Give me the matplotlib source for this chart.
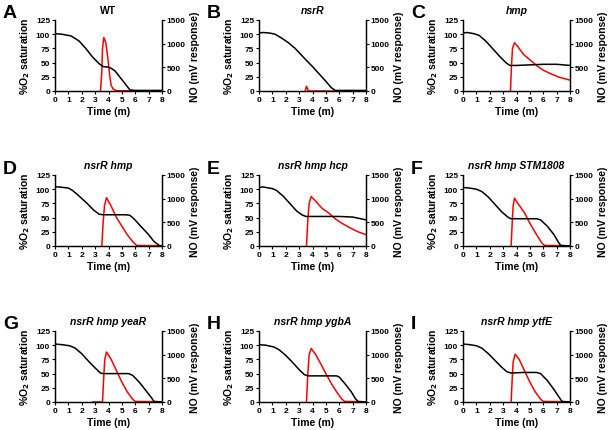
import matplotlib
matplotlib.use("Agg")
import matplotlib.pyplot as plt

plt.rcParams['font.family'] = ['Liberation Sans', 'DejaVu Sans']
plt.rcParams['font.weight'] = 'bold'

letters = ['A', 'B', 'C', 'D', 'E', 'F', 'G', 'H', 'I']
titles = ['WT', 'nsrR', 'hmp', 'nsrR hmp', 'nsrR hmp hcp', 'nsrR hmp STM1808',
          'nsrR hmp yeaR', 'nsrR hmp ygbA', 'nsrR hmp ytfE']
title_italic = [False, True, True, True, True, True, True, True, True]

# O2 saturation curves (time in minutes, % saturation)
o2_t = [
    [0, 0.5, 1.2, 1.8, 2.3, 2.8, 3.3, 3.6, 4.0, 4.2, 4.5, 5.0, 5.4, 5.6, 6, 8],
    [0, 0.3, 0.8, 1.2, 1.7, 2.2, 2.7, 3.1, 3.5, 4.0, 4.5, 5.0, 5.4, 5.7, 8],
    [0, 0.3, 0.8, 1.2, 1.7, 2.2, 2.7, 3.2, 3.5, 4, 5, 6, 7, 8],
    [0, 0.3, 1.0, 1.3, 1.8, 2.4, 2.9, 3.3, 3.6, 4.5, 5.3, 5.6, 5.9, 6.4, 7.0, 7.4, 7.8, 8],
    [0, 0.3, 1.0, 1.3, 1.8, 2.3, 2.8, 3.2, 3.5, 4, 5, 6, 7, 7.6, 8],
    [0, 0.5, 1.0, 1.4, 1.9, 2.4, 2.9, 3.4, 3.6, 5.5, 5.8, 6.3, 6.8, 7.1, 7.3, 8],
    [0, 0.5, 1.1, 1.5, 2.0, 2.5, 3.0, 3.4, 3.6, 5.5, 5.8, 6.3, 6.8, 7.2, 7.4, 8],
    [0, 0.5, 1.1, 1.5, 2.0, 2.5, 3.0, 3.4, 3.7, 5.8, 6.0, 6.4, 6.9, 7.2, 7.4, 8],
    [0, 0.5, 1.0, 1.4, 1.9, 2.4, 2.9, 3.3, 3.6, 4.5, 5.5, 5.8, 6.3, 6.8, 7.2, 7.4, 8],
]
o2_v = [
    [101, 100, 97, 88, 75, 60, 48, 43, 42, 40, 35, 20, 8, 2, 1, 1],
    [102, 103, 102, 100, 93, 85, 75, 65, 55, 43, 30, 17, 6, 1, 1],
    [102, 103, 101, 98, 88, 75, 62, 50, 45, 45, 46, 47, 47, 45],
    [104, 104, 102, 98, 88, 75, 63, 56, 55, 55, 55, 54, 48, 35, 20, 8, 1, 0],
    [103, 104, 101, 98, 88, 75, 62, 55, 52, 52, 52, 52, 51, 48, 46],
    [103, 102, 100, 96, 86, 73, 60, 50, 48, 48, 46, 35, 20, 8, 1, 0],
    [102, 101, 99, 95, 85, 72, 60, 51, 50, 50, 47, 35, 20, 8, 1, 0],
    [101, 100, 97, 92, 82, 70, 57, 48, 46, 46, 44, 33, 18, 6, 1, 0],
    [102, 101, 99, 95, 85, 73, 61, 53, 51, 52, 52, 50, 38, 22, 8, 1, 0],
]

# NO electrode response (time in minutes, mV)
no_t = [
    [3.4, 3.5, 3.55, 3.65, 3.8, 3.95, 4.1, 4.2, 4.35, 4.6, 8],
    [3.45, 3.55, 3.7, 8],
    [3.55, 3.62, 3.7, 3.85, 4.1, 4.5, 5.0, 5.5, 6.0, 6.6, 7.2, 8],
    [3.5, 3.6, 3.7, 3.85, 4.2, 4.6, 5.0, 5.4, 5.8, 6.1, 8],
    [3.55, 3.65, 3.75, 3.9, 4.2, 4.7, 5.2, 5.7, 6.2, 6.8, 7.4, 8],
    [3.6, 3.68, 3.75, 3.85, 4.1, 4.6, 5.0, 5.5, 5.9, 6.1, 8],
    [2.8, 3.55, 3.65, 3.72, 3.85, 4.2, 4.6, 5.0, 5.4, 5.8, 6.0, 8],
    [3.55, 3.65, 3.75, 3.9, 4.2, 4.6, 5.0, 5.4, 5.8, 6.2, 6.4, 8],
    [3.6, 3.68, 3.75, 3.9, 4.2, 4.6, 5.0, 5.4, 5.8, 6.0, 8],
]
no_v = [
    [0, 400, 900, 1130, 1020, 700, 300, 120, 40, 5, 5],
    [0, 100, 0, 0],
    [0, 500, 900, 1020, 940, 780, 660, 540, 440, 360, 290, 230],
    [0, 500, 850, 1020, 840, 600, 420, 240, 96, 12, 5],
    [0, 550, 900, 1045, 960, 800, 700, 575, 480, 385, 300, 240],
    [0, 500, 850, 1010, 900, 700, 480, 240, 60, 12, 5],
    [0, 0, 550, 900, 1055, 900, 660, 420, 215, 60, 12, 5],
    [0, 600, 1000, 1130, 1020, 815, 600, 395, 215, 60, 12, 5],
    [0, 500, 850, 1010, 900, 660, 420, 215, 60, 12, 5],
]

fig = plt.figure(figsize=(6.12, 4.31), dpi=100)

lefts = [55, 259, 463]
tops = [21, 176, 332]
w_px, h_px = 107, 71
W, H = 612, 431

for i in range(9):
    r, c = divmod(i, 3)
    x0 = lefts[c] / W
    y0 = 1 - (tops[r] + h_px) / H
    ax = fig.add_axes([x0, y0, w_px / W, h_px / H])
    ax2 = ax.twinx()

    ax.plot(o2_t[i], o2_v[i], color='black', lw=1.1, zorder=3)
    ax2.plot(no_t[i], no_v[i], color='red', lw=1.1)

    ax.set_xlim(0, 8)
    ax.set_ylim(0, 125)
    ax2.set_ylim(0, 1500)
    ax.set_xticks(range(0, 9))
    ax.set_yticks([0, 25, 50, 75, 100, 125])
    ax2.set_yticks([0, 500, 1000, 1500])

    ax.set_zorder(ax2.get_zorder() + 1)
    ax.patch.set_visible(False)

    for a in (ax, ax2):
        a.spines['top'].set_visible(False)
        for s in a.spines.values():
            s.set_linewidth(0.9)
        a.tick_params(labelsize=6, length=2.5, width=0.8, pad=1)
        for lab in a.get_xticklabels() + a.get_yticklabels():
            lab.set_fontweight('bold')

    ax.set_xlabel('Time (m)', fontsize=7.5, fontweight='bold', labelpad=2)
    ax.set_ylabel('%O$_\\mathbf{2}$ saturation', fontsize=7.5, fontweight='bold', labelpad=3)
    ax2.set_ylabel('NO (mV response)', fontsize=7.5, fontweight='bold', labelpad=3)

    ax.set_title(titles[i], fontsize=7.5, fontweight='bold',
                 fontstyle='italic' if title_italic[i] else 'normal', pad=5)

    fig.text((lefts[c] - 52) / W, 1 - (tops[r] - 7) / H, letters[i],
             fontsize=14, fontweight='bold', ha='left', va='center')

fig.savefig('out.png', dpi=100)
